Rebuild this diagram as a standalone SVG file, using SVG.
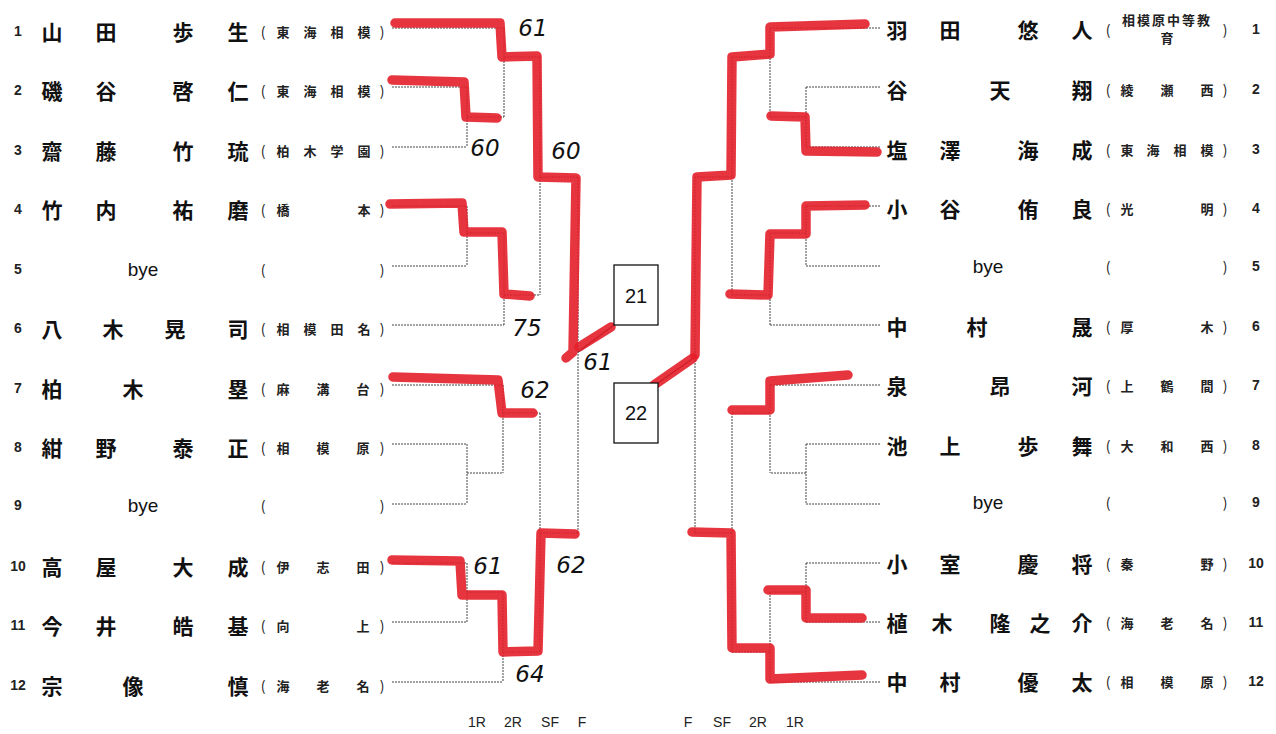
<svg xmlns="http://www.w3.org/2000/svg" width="1276" height="734" viewBox="0 0 1276 734">
<style>
.num{font-family:"Liberation Sans",Arial,sans-serif;font-size:14px;font-weight:bold;fill:#222;text-anchor:middle;dominant-baseline:central}
.nm{font-family:"Noto Sans CJK JP","Noto Sans CJK SC",sans-serif;font-size:21px;font-weight:bold;fill:#111;text-anchor:middle;dominant-baseline:central}
.bye{font-family:"Liberation Sans",Arial,sans-serif;font-size:19px;fill:#111;text-anchor:middle;dominant-baseline:central}
.sc{font-family:"Noto Sans CJK JP","Noto Sans CJK SC",sans-serif;font-size:13px;font-weight:bold;fill:#222;text-anchor:middle;dominant-baseline:central}
.pr{font-family:"Noto Sans CJK JP",sans-serif;font-size:14px;fill:#222;text-anchor:middle;dominant-baseline:central}
.ln{fill:none;stroke:#444;stroke-width:1;stroke-dasharray:2 1}
.red{fill:none;stroke:#e41f2a;stroke-width:9.5;stroke-linecap:round;stroke-linejoin:round;opacity:0.9}
.box{fill:#fff;stroke:#111;stroke-width:1.3}
.bx{font-family:"Liberation Sans",Arial,sans-serif;font-size:20px;fill:#111;text-anchor:middle;dominant-baseline:central}
.score{font-family:"DejaVu Sans",sans-serif;font-size:23px;font-style:italic;fill:#111;text-anchor:middle;dominant-baseline:central}
.rd{font-family:"Liberation Sans",Arial,sans-serif;font-size:14px;fill:#222;text-anchor:middle;dominant-baseline:central}
</style>
<rect width="1276" height="734" fill="#fff"/>

<g id="connectors">
<path class="ln" d="M392,28H504 M392,87H467 M392,147H467 M467,87V147 M467,117H504 M504,28V117 M504,57H540"/>
<path class="ln" d="M392,206H467 M392,266H467 M467,206V266 M467,233H504 M392,325H504 M504,233V325 M504,295H540 M540,57V295 M540,177H578"/>
<path class="ln" d="M392,385H503 M392,444H467 M392,504H467 M467,444V504 M467,473H503 M503,385V473 M503,413H540"/>
<path class="ln" d="M392,563H467 M392,622H467 M467,563V622 M467,592H503 M392,682H503 M503,592V682 M503,652H540 M540,413V652 M540,533H578 M578,177V533"/>
<path d="M578,352L614,325" fill="none" stroke="#111" stroke-width="1.3"/>
<path class="ln" d="M880,28H770 M880,87H806 M880,147H806 M806,87V147 M806,117H770 M770,28V117 M770,57H732"/>
<path class="ln" d="M880,206H806 M880,266H806 M806,206V266 M806,233H770 M880,325H770 M770,233V325 M770,295H732 M732,57V295 M732,177H695"/>
<path class="ln" d="M880,385H770 M880,444H806 M880,504H806 M806,444V504 M806,473H770 M770,385V473 M770,413H732"/>
<path class="ln" d="M880,563H806 M880,622H806 M806,563V622 M806,592H770 M880,682H770 M770,592V682 M770,652H732 M732,413V652 M732,533H695 M695,177V533"/>
<path d="M695,357L658,383" fill="none" stroke="#111" stroke-width="1.3"/>
</g>

<g id="results">
<path class="red" d="M395,23L500,23L502,57L537,56L538,177L576,178L573,352L566,358"/>
<path class="red" d="M579,347L611,327"/>
<path class="red" d="M392,80L464,82L466,117L497,118"/>
<path class="red" d="M390,204L462,203L464,232L502,232L504,294L530,296"/>
<path class="red" d="M393,377L498,380L502,413L533,413"/>
<path class="red" d="M392,560L460,561L462,595L502,595L503,652L538,651L541,533L575,534"/>
<path class="red" d="M865,24L770,27L770,54L732,57L731,175L697,177L695,355"/>
<path class="red" d="M693,358L654,385"/>
<path class="red" d="M877,152L806,151L805,117L771,116"/>
<path class="red" d="M865,205L806,206L806,234L770,234L768,295L730,294"/>
<path class="red" d="M848,375L770,381L770,410L732,410"/>
<path class="red" d="M862,618L806,618L806,590L768,590"/>
<path class="red" d="M862,675L770,679L770,648L732,648L731,533L692,532"/>
</g>

<g id="scores">
<text class="score" x="533" y="28">61</text>
<text class="score" x="485" y="148">60</text>
<text class="score" x="566" y="151">60</text>
<text class="score" x="527" y="328">75</text>
<text class="score" x="598" y="362">61</text>
<text class="score" x="535" y="390">62</text>
<text class="score" x="488" y="566">61</text>
<text class="score" x="571" y="565">62</text>
<text class="score" x="530" y="674">64</text>
</g>

<g id="final-21"><rect class="box" x="614" y="265" width="44" height="60"/><text class="bx" x="636" y="296">21</text></g>
<g id="final-22"><rect class="box" x="614" y="383" width="44" height="60"/><text class="bx" x="636" y="413">22</text></g>

<g id="L1"><text class="num" x="18" y="31">1</text><text class="nm" x="52 106 183 238" y="31">山田歩生</text><text class="pr" x="263" y="31">(</text><text class="sc" x="283 310 337 364" y="31">東海相模</text><text class="pr" x="382" y="31">)</text></g>
<g id="L2"><text class="num" x="18" y="90">2</text><text class="nm" x="52 106 183 238" y="90">磯谷啓仁</text><text class="pr" x="263" y="90">(</text><text class="sc" x="283 310 337 364" y="90">東海相模</text><text class="pr" x="382" y="90">)</text></g>
<g id="L3"><text class="num" x="18" y="150">3</text><text class="nm" x="52 106 183 238" y="150">齋藤竹琉</text><text class="pr" x="263" y="150">(</text><text class="sc" x="283 310 337 364" y="150">柏木学園</text><text class="pr" x="382" y="150">)</text></g>
<g id="L4"><text class="num" x="18" y="209">4</text><text class="nm" x="52 106 183 238" y="209">竹内祐磨</text><text class="pr" x="263" y="209">(</text><text class="sc" x="283 364" y="209">橋本</text><text class="pr" x="382" y="209">)</text></g>
<g id="L5"><text class="num" x="18" y="269">5</text><text class="bye" x="143" y="269">bye</text><text class="pr" x="263" y="269">(</text><text class="pr" x="382" y="269">)</text></g>
<g id="L6"><text class="num" x="18" y="328">6</text><text class="nm" x="52 113 175 238" y="328">八木晃司</text><text class="pr" x="263" y="328">(</text><text class="sc" x="283 310 337 364" y="328">相模田名</text><text class="pr" x="382" y="328">)</text></g>
<g id="L7"><text class="num" x="18" y="388">7</text><text class="nm" x="52 133 238" y="388">柏木塁</text><text class="pr" x="263" y="388">(</text><text class="sc" x="283 323 363" y="388">麻溝台</text><text class="pr" x="382" y="388">)</text></g>
<g id="L8"><text class="num" x="18" y="447">8</text><text class="nm" x="52 106 183 238" y="447">紺野泰正</text><text class="pr" x="263" y="447">(</text><text class="sc" x="283 323 363" y="447">相模原</text><text class="pr" x="382" y="447">)</text></g>
<g id="L9"><text class="num" x="18" y="505">9</text><text class="bye" x="143" y="505">bye</text><text class="pr" x="263" y="505">(</text><text class="pr" x="382" y="505">)</text></g>
<g id="L10"><text class="num" x="18" y="566">10</text><text class="nm" x="52 106 183 238" y="566">高屋大成</text><text class="pr" x="263" y="566">(</text><text class="sc" x="283 323 363" y="566">伊志田</text><text class="pr" x="382" y="566">)</text></g>
<g id="L11"><text class="num" x="18" y="625">11</text><text class="nm" x="52 106 183 238" y="625">今井皓基</text><text class="pr" x="263" y="625">(</text><text class="sc" x="283 363" y="625">向上</text><text class="pr" x="382" y="625">)</text></g>
<g id="L12"><text class="num" x="18" y="685">12</text><text class="nm" x="52 133 238" y="685">宗像慎</text><text class="pr" x="263" y="685">(</text><text class="sc" x="283 323 363" y="685">海老名</text><text class="pr" x="382" y="685">)</text></g>

<g id="R1"><text class="nm" x="897 950 1028 1082" y="29">羽田悠人</text><text class="pr" x="1108" y="29">(</text><text class="sc" x="1167" y="19" font-size="11.5" letter-spacing="2">相模原中等教</text><text class="sc" x="1167" y="37" font-size="11.5">育</text><text class="pr" x="1225" y="29">)</text><text class="num" x="1256" y="29">1</text></g>
<g id="R2"><text class="nm" x="897 1000 1082" y="89">谷天翔</text><text class="pr" x="1108" y="89">(</text><text class="sc" x="1127 1167 1207" y="89">綾瀬西</text><text class="pr" x="1225" y="89">)</text><text class="num" x="1256" y="89">2</text></g>
<g id="R3"><text class="nm" x="897 950 1028 1082" y="149">塩澤海成</text><text class="pr" x="1108" y="149">(</text><text class="sc" x="1127 1153 1180 1207" y="149">東海相模</text><text class="pr" x="1225" y="149">)</text><text class="num" x="1256" y="149">3</text></g>
<g id="R4"><text class="nm" x="897 950 1028 1082" y="208">小谷侑良</text><text class="pr" x="1108" y="208">(</text><text class="sc" x="1127 1207" y="208">光明</text><text class="pr" x="1225" y="208">)</text><text class="num" x="1256" y="208">4</text></g>
<g id="R5"><text class="bye" x="988" y="266">bye</text><text class="pr" x="1108" y="266">(</text><text class="pr" x="1225" y="266">)</text><text class="num" x="1256" y="266">5</text></g>
<g id="R6"><text class="nm" x="897 977 1082" y="326">中村晟</text><text class="pr" x="1108" y="326">(</text><text class="sc" x="1127 1207" y="326">厚木</text><text class="pr" x="1225" y="326">)</text><text class="num" x="1256" y="326">6</text></g>
<g id="R7"><text class="nm" x="897 1000 1082" y="385">泉昂河</text><text class="pr" x="1108" y="385">(</text><text class="sc" x="1127 1167 1207" y="385">上鶴間</text><text class="pr" x="1225" y="385">)</text><text class="num" x="1256" y="385">7</text></g>
<g id="R8"><text class="nm" x="897 950 1028 1082" y="445">池上歩舞</text><text class="pr" x="1108" y="445">(</text><text class="sc" x="1127 1167 1207" y="445">大和西</text><text class="pr" x="1225" y="445">)</text><text class="num" x="1256" y="445">8</text></g>
<g id="R9"><text class="bye" x="988" y="502">bye</text><text class="pr" x="1108" y="502">(</text><text class="pr" x="1225" y="502">)</text><text class="num" x="1256" y="502">9</text></g>
<g id="R10"><text class="nm" x="897 950 1028 1082" y="563">小室慶将</text><text class="pr" x="1108" y="563">(</text><text class="sc" x="1127 1207" y="563">秦野</text><text class="pr" x="1225" y="563">)</text><text class="num" x="1256" y="563">10</text></g>
<g id="R11"><text class="nm" x="897 942 1000 1040 1082" y="622">植木隆之介</text><text class="pr" x="1108" y="622">(</text><text class="sc" x="1127 1167 1207" y="622">海老名</text><text class="pr" x="1225" y="622">)</text><text class="num" x="1256" y="622">11</text></g>
<g id="R12"><text class="nm" x="897 950 1028 1082" y="681">中村優太</text><text class="pr" x="1108" y="681">(</text><text class="sc" x="1127 1167 1207" y="681">相模原</text><text class="pr" x="1225" y="681">)</text><text class="num" x="1256" y="681">12</text></g>

<g id="rounds">
<text class="rd" x="477" y="722">1R</text><text class="rd" x="513" y="722">2R</text><text class="rd" x="550" y="722">SF</text><text class="rd" x="582" y="722">F</text>
<text class="rd" x="688" y="722">F</text><text class="rd" x="722" y="722">SF</text><text class="rd" x="758" y="722">2R</text><text class="rd" x="795" y="722">1R</text>
</g>
</svg>
